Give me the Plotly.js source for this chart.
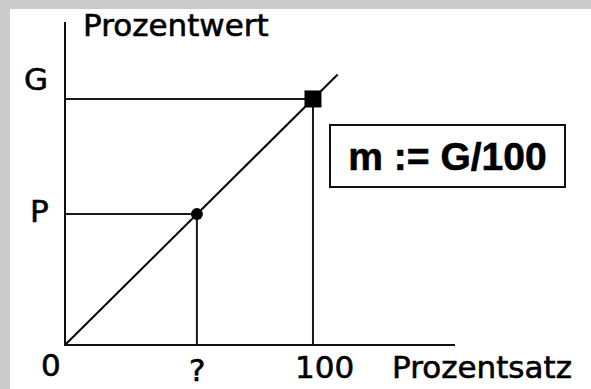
<!DOCTYPE html>
<html>
<head>
<meta charset="utf-8">
<script src="https://cdn.plot.ly/plotly-3.0.1.min.js"></script>
<style>
  html, body { margin: 0; padding: 0; background: #cbcbcb; overflow: hidden; }
  #sheet { position: absolute; left: 10px; top: 9px; width: 581px; height: 380px; background: #ffffff; }
  #chart { position: absolute; left: 0; top: 0; width: 591px; height: 389px; }
  /* slightly heavier lettering for the labels */
  #chart .annotation-text { stroke: #000000; stroke-width: 0.6px; }
</style>
</head>
<body>
<div id="sheet"></div>
<div id="chart"></div>
<script>
// Grundwert G corresponds to 100 %, the Prozentwert P to the unknown Prozentsatz "?"
const G = 100;
const hundred = 100;
const pShare = 53;              // unknown Prozentsatz (and its Prozentwert) on the line
const lineEnd = 110;            // how far the proportional line is drawn

const lineX = [0, lineEnd];
const lineY = [0, lineEnd * G / hundred];

const tickLabels = ['0', '?', '100'];
const tickPos = [0, pShare, hundred];
const levelLabels = ['G', 'P'];
const levelPos = [G, pShare * G / hundred];

const axisTitleX = 'Prozentsatz';
const axisTitleY = 'Prozentwert';
const formula = 'm := G/100';

const black = '#000000';
const guide = { color: '#1a1a1a', width: 2 };

const traces = [
  // guide lines to the G level
  { x: [0, hundred, hundred], y: [G, G, 0], mode: 'lines', line: guide, hoverinfo: 'skip' },
  // guide lines to the P level
  { x: [0, pShare, pShare], y: [levelPos[1], levelPos[1], 0], mode: 'lines', line: guide, hoverinfo: 'skip' },
  // proportional line through the origin
  { x: lineX, y: lineY, mode: 'lines', line: { color: black, width: 2 }, hoverinfo: 'skip' },
  // known point (100 | G)
  { x: [hundred], y: [G], mode: 'markers', marker: { symbol: 'square', size: 17, color: black } },
  // sought point (? | P)
  { x: [pShare], y: [levelPos[1]], mode: 'markers', marker: { symbol: 'circle', size: 12, color: black } }
];

const txt = { family: 'DejaVu Sans, sans-serif', size: 31, color: black };

const annotations = [];
// labels under the horizontal axis: data x, paper y
const tickShiftX = [-15, 0, 12];
const tickY = [-0.064, -0.082, -0.072];
tickLabels.forEach((t, i) => annotations.push({
  xref: 'x', yref: 'paper', x: tickPos[i], y: tickY[i], xshift: tickShiftX[i],
  text: t, showarrow: false, xanchor: 'center', yanchor: 'middle', font: txt
}));
// labels left of the vertical axis: paper x, data y
const levelX = [-0.076, -0.069];
const levelShiftY = [20, 3];
levelLabels.forEach((t, i) => annotations.push({
  xref: 'paper', yref: 'y', x: levelX[i], y: levelPos[i], yshift: levelShiftY[i],
  text: t, showarrow: false, xanchor: 'center', yanchor: 'middle', font: txt
}));
// axis names
annotations.push({ xref: 'paper', yref: 'paper', x: 1.069, y: -0.071, text: axisTitleX,
  showarrow: false, xanchor: 'center', yanchor: 'middle', font: txt });
annotations.push({ xref: 'paper', yref: 'paper', x: 0.283, y: 0.99, text: axisTitleY,
  showarrow: false, xanchor: 'center', yanchor: 'middle', font: txt });
// slope formula in a framed box
annotations.push({
  xref: 'paper', yref: 'paper', x: 0.981, y: 0.584, text: '<b>' + formula + '</b>', showarrow: false,
  xanchor: 'center', yanchor: 'middle',
  width: 233, height: 60, align: 'center', valign: 'middle',
  bordercolor: '#111111', borderwidth: 2, borderpad: 0, bgcolor: '#ffffff',
  font: { family: 'Liberation Sans, Arial, sans-serif', size: 39, color: black }
});

const layout = {
  width: 591, height: 389,
  margin: { l: 66, r: 136, t: 22, b: 45 },
  paper_bgcolor: 'rgba(0,0,0,0)', plot_bgcolor: 'rgba(0,0,0,0)',
  showlegend: false,
  xaxis: {
    range: [0, 157.5], showgrid: false, zeroline: false, showticklabels: false, ticks: '',
    showline: true, linecolor: '#111111', linewidth: 2, fixedrange: true
  },
  yaxis: {
    range: [0, 131.4], showgrid: false, zeroline: false, showticklabels: false, ticks: '',
    showline: true, linecolor: '#111111', linewidth: 2, fixedrange: true
  },
  annotations: annotations
};

Plotly.newPlot('chart', traces, layout, { displayModeBar: false, staticPlot: true });
</script>
</body>
</html>
